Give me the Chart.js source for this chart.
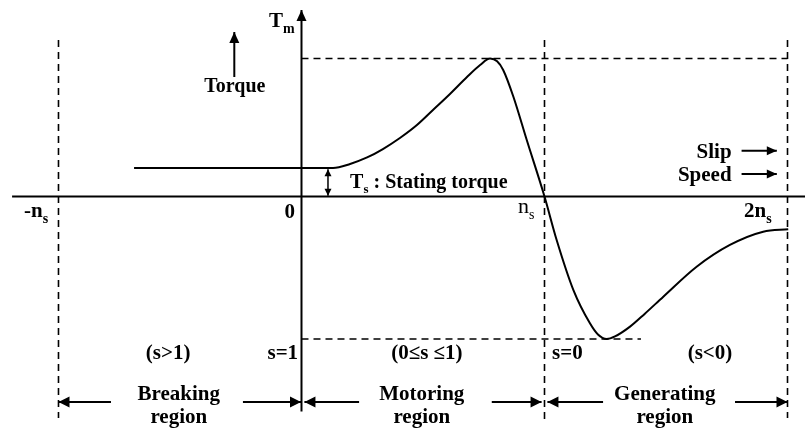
<!DOCTYPE html>
<html>
<head>
<meta charset="utf-8">
<script src="https://cdn.jsdelivr.net/npm/chart.js@4/dist/chart.umd.min.js"></script>
<style>
html, body { margin: 0; padding: 0; background: #fff; }
#wrap { width: 805px; height: 430px; }
</style>
</head>
<body>
<div id="wrap"><canvas id="myChart" width="805" height="430"></canvas></div>
<script>
// speed in multiples of n_s, torque in multiples of T_m
var speed = [-0.689, 0, 0.13, 0.2, 0.27, 0.335, 0.405, 0.475, 0.541, 0.611, 0.681, 0.735, 0.776,
             0.805, 0.83, 0.872, 0.927, 1.0, 1.05, 1.119, 1.187, 1.22, 1.256, 1.29, 1.352, 1.413,
             1.489, 1.626, 1.763, 1.9, 2.003];
var torque = [0.207, 0.207, 0.207, 0.236, 0.283, 0.344, 0.424, 0.518, 0.627, 0.743, 0.866, 0.953, 1.0,
              0.98, 0.917, 0.723, 0.409, 0, -0.315, -0.678, -0.919, -1.0, -1.033, -1.014, -0.943, -0.849,
              -0.726, -0.509, -0.351, -0.255, -0.238];

var startTorque = 0.207;
var maxTorque = 1;
var minTorque = -1.033;
var minTorqueSpeed = 1.397;

var speedTicks = ["-n_s", "0", "n_s", "2n_s"];
var slipLabels = ["(s>1)", "s=1", "(0\u2264s \u22641)", "s=0", "(s<0)"];
var regionNames = ["Breaking", "Motoring", "Generating"];
var regionBounds = [-1, 0, 1, 2];

var FONT = '"Liberation Serif", "Times New Roman", serif';

function seg(xs, ys, extra) {
    var ds = {
        data: xs.map(function (x, i) { return { x: x, y: ys[i] }; }),
        showLine: true,
        borderColor: "#000",
        backgroundColor: "#000",
        borderWidth: 2,
        pointRadius: 0,
        tension: 0,
        clip: false
    };
    for (var k in extra) ds[k] = extra[k];
    return ds;
}

var datasets = [];
// torque-speed curve
datasets.push(seg(speed, torque, { borderWidth: 2, cubicInterpolationMode: "monotone" }));
// axes
datasets.push(seg([-1.191, 2.08], [0, 0], { borderWidth: 2 }));
datasets.push(seg([0, 0], [-1.558, 1.351], { borderWidth: 2, arrow: "end", headLen: 11, headW: 5 }));
// dashed boundaries
[-1, 1, 2].forEach(function (v) {
    datasets.push(seg([v, v], [1.134, v == 1 ? -1.62 : -1.605], { borderWidth: 1.6, borderDash: [7, 5] }));
});
datasets.push(seg([0, 2], [maxTorque, maxTorque], { borderWidth: 1.6, borderDash: [7, 5] }));
datasets.push(seg([0, minTorqueSpeed], [minTorque, minTorque], { borderWidth: 1.6, borderDash: [7, 5] }));
// "Torque" arrow
datasets.push(seg([-0.2765, -0.2765], [0.866, 1.192], { borderWidth: 2, arrow: "end", headLen: 11, headW: 5 }));
// starting torque double arrow
datasets.push(seg([0.109, 0.109], [startTorque - 0.01, 0.005], { borderWidth: 1.5, arrow: "both", headLen: 7, headW: 3.5 }));
// slip / speed arrows
datasets.push(seg([1.811, 1.956], [0.332, 0.332], { borderWidth: 2, arrow: "end", headLen: 10, headW: 4.5 }));
datasets.push(seg([1.811, 1.956], [0.163, 0.163], { borderWidth: 2, arrow: "end", headLen: 10, headW: 4.5 }));
// region arrows
var arrowY = -1.489;
var inner = [[-0.784, 0.237, 1.241], [-0.241, 0.783, 1.784]];
for (var r = 0; r < 3; r++) {
    var lo = regionBounds[r] + (r == 0 ? 0 : 0.012);
    var hi = regionBounds[r + 1] - (r == 2 ? 0 : 0.012);
    if (r == 0) hi = regionBounds[1] - 0.002;
    datasets.push(seg([inner[0][r], lo], [arrowY, arrowY], { borderWidth: 2, arrow: "end", headLen: 11, headW: 5.5 }));
    datasets.push(seg([inner[1][r], hi], [arrowY, arrowY], { borderWidth: 2, arrow: "end", headLen: 11, headW: 5.5 }));
}

// text layout (data units)
var texts = [
    { t: "T_m", x: -0.134, y: 1.228, align: "left" },
    { t: "Torque", x: -0.274, y: 0.757, align: "center", size: 20 },
    { t: "T_s : Stating torque", x: 0.2, y: 0.062, align: "left", size: 20 },
    { t: "Slip", x: 1.77, y: 0.279, align: "right" },
    { t: "Speed", x: 1.77, y: 0.112, align: "right" },
    { t: speedTicks[0], x: -1.142, y: -0.149, align: "left" },
    { t: speedTicks[1], x: -0.027, y: -0.156, align: "right" },
    { t: speedTicks[2], x: 0.891, y: -0.12, align: "left", size: 22, bold: false },
    { t: speedTicks[3], x: 1.821, y: -0.149, align: "left" },
    { t: slipLabels[0], x: -0.549, y: -1.178, align: "center" },
    { t: slipLabels[1], x: -0.014, y: -1.178, align: "right" },
    { t: slipLabels[2], x: 0.516, y: -1.178, align: "center" },
    { t: slipLabels[3], x: 1.031, y: -1.178, align: "left" },
    { t: slipLabels[4], x: 1.681, y: -1.178, align: "center" }
];
regionNames.forEach(function (name, i) {
    var cx = (regionBounds[i] + regionBounds[i + 1]) / 2 - 0.005;
    texts.push({ t: name, x: cx, y: -1.475, align: "center" });
    texts.push({ t: "region", x: cx, y: -1.641, align: "center" });
});

function head(ctx, from, to, len, w) {
    var dx = to.x - from.x, dy = to.y - from.y;
    var d = Math.sqrt(dx * dx + dy * dy);
    var ux = dx / d, uy = dy / d;
    var bx = to.x - ux * len, by = to.y - uy * len;
    ctx.beginPath();
    ctx.moveTo(to.x, to.y);
    ctx.lineTo(bx - uy * w, by + ux * w);
    ctx.lineTo(bx + uy * w, by - ux * w);
    ctx.closePath();
    ctx.fill();
}

function richText(ctx, str, x, y, align, size, bold) {
    var runs = [];
    var parts = str.split(/_(.)/);
    for (var i = 0; i < parts.length; i++) {
        if (parts[i] === "") continue;
        runs.push({ s: parts[i], sub: i % 2 == 1 });
    }
    var w = bold ? "bold " : "";
    var subSize = Math.round(size * 0.65);
    var total = 0;
    runs.forEach(function (r) {
        ctx.font = w + (r.sub ? subSize : size) + "px " + FONT;
        r.w = ctx.measureText(r.s).width;
        total += r.w;
    });
    var cx = x;
    if (align == "center") cx = x - total / 2;
    if (align == "right") cx = x - total;
    ctx.textAlign = "left";
    ctx.textBaseline = "alphabetic";
    runs.forEach(function (r) {
        ctx.font = w + (r.sub ? subSize : size) + "px " + FONT;
        ctx.fillText(r.s, cx, r.sub ? y + size * 0.27 : y);
        cx += r.w;
    });
}

var extras = {
    id: "extras",
    afterDatasetsDraw: function (chart) {
        var ctx = chart.ctx;
        ctx.save();
        ctx.fillStyle = "#000";
        chart.data.datasets.forEach(function (ds, i) {
            if (!ds.arrow) return;
            var pts = chart.getDatasetMeta(i).data;
            var n = pts.length;
            if (ds.arrow == "end" || ds.arrow == "both") head(ctx, pts[n - 2], pts[n - 1], ds.headLen, ds.headW);
            if (ds.arrow == "start" || ds.arrow == "both") head(ctx, pts[1], pts[0], ds.headLen, ds.headW);
        });
        var xs = chart.scales.x, ys = chart.scales.y;
        texts.forEach(function (l) {
            richText(ctx, l.t, xs.getPixelForValue(l.x), ys.getPixelForValue(l.y), l.align,
                l.size || 21, l.bold !== false);
        });
        ctx.restore();
    }
};

var myChart = document.getElementById("myChart").getContext("2d");
var chart = new Chart(myChart, {
    type: "scatter",
    data: { datasets: datasets },
    options: {
        responsive: false,
        animation: false,
        layout: { padding: 0 },
        plugins: { legend: { display: false }, tooltip: { enabled: false } },
        scales: {
            x: { type: "linear", min: -1.2407, max: 2.072, display: false },
            y: { type: "linear", min: -1.692, max: 1.424, display: false }
        }
    },
    plugins: [extras]
});
</script>
</body>
</html>
